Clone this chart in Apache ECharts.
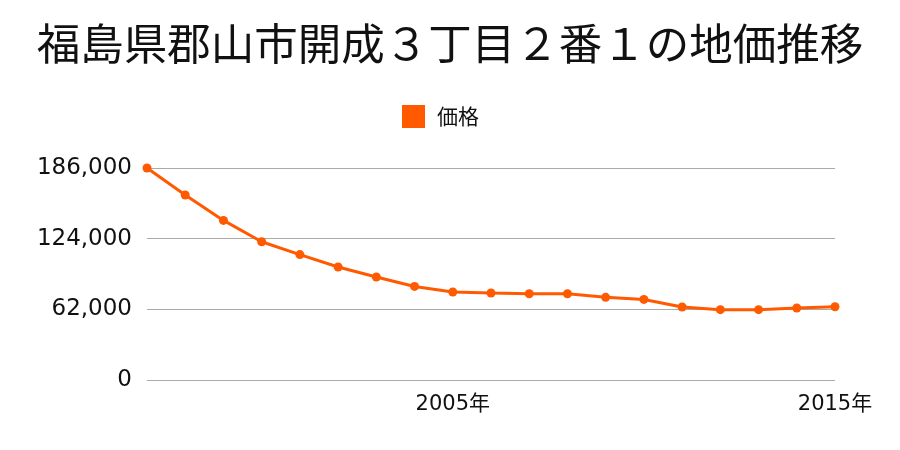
<!DOCTYPE html>
<html><head><meta charset="utf-8">
<script src="https://cdn.jsdelivr.net/npm/echarts@6/dist/echarts.min.js"></script>
<style>html,body{margin:0;padding:0;background:#fff}#c{width:900px;height:450px}</style>
</head><body><div id="c"></div>
<script>
const titleText = '福島県郡山市開成３丁目２番１の地価推移';
const seriesName = '価格';
const years = ['1997年','1998年','1999年','2000年','2001年','2002年','2003年','2004年','2005年','2006年','2007年','2008年','2009年','2010年','2011年','2012年','2013年','2014年','2015年'];
const prices = [186000,162300,140000,121300,110000,99100,90400,82100,77200,76300,75700,75700,72500,70700,64000,61700,61700,63200,64300];
const shownLabels = ['2005年','2015年'];
const yTicks = [0,62000,124000,186000];

const chart = echarts.init(document.getElementById('c'), null, {renderer:'canvas'});
const cjk = '"Noto Sans CJK JP", sans-serif';
const num = '"DejaVu Sans", "Noto Sans CJK JP", sans-serif';
chart.setOption({
  animation:false,
  textStyle:{fontFamily:cjk},
  title:{text:titleText,left:'center',top:17,textStyle:{fontSize:43.5,fontWeight:'normal',color:'#111',fontFamily:cjk}},
  legend:{data:[seriesName],top:100,left:397,icon:'rect',itemWidth:23,itemHeight:23,itemGap:10,
    textStyle:{fontSize:21,color:'#111',fontFamily:cjk,padding:[0,0,0,7]}},
  grid:{left:147,right:65,top:168,bottom:70,containLabel:false},
  xAxis:{type:'category',data:years,boundaryGap:false,
    axisLine:{show:false},axisTick:{show:false},
    axisLabel:{fontSize:21,color:'#111',margin:14,fontFamily:num,
      interval:function(i,v){return shownLabels.indexOf(v)>=0;},
      formatter:function(v){return shownLabels.indexOf(v)>=0?v:'';}}},
  yAxis:{type:'value',min:yTicks[0],max:yTicks[yTicks.length-1],interval:62000,
    axisLine:{show:false},axisTick:{show:false},
    splitLine:{lineStyle:{color:'#aaa',width:1}},
    axisLabel:{fontSize:23,color:'#111',margin:15,fontFamily:num,
      formatter:function(v){return v.toLocaleString('en-US');}}},
  series:[{name:seriesName,type:'line',data:prices,symbol:'circle',symbolSize:9,
    itemStyle:{color:'#ff5a00'},lineStyle:{color:'#ff5a00',width:3}}]
});
</script></body></html>
